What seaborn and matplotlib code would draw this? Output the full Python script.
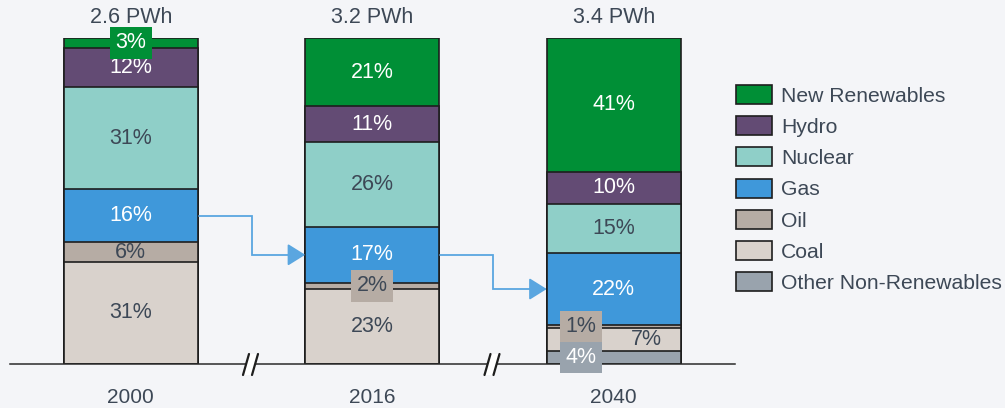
import numpy as np
import pandas as pd
import matplotlib.pyplot as plt
import seaborn as sns
from matplotlib.patches import Patch, Polygon

# Data (shares in %, bottom to top)
years = ["2000", "2016", "2040"]
totals = ["2.6 PWh", "3.2 PWh", "3.4 PWh"]
sources = ["Other Non-Renewables", "Coal", "Oil", "Gas", "Nuclear", "Hydro", "New Renewables"]
other = [0, 0, 4]
coal = [31, 23, 7]
oil = [6, 2, 1]
gas = [16, 17, 22]
nuclear = [31, 26, 15]
hydro = [12, 11, 10]
new_renew = [3, 21, 41]

colors = {
    "Other Non-Renewables": "#99a3ad",
    "Coal": "#d9d2cc",
    "Oil": "#b6aca4",
    "Gas": "#3f98da",
    "Nuclear": "#8fcfc8",
    "Hydro": "#634b74",
    "New Renewables": "#008f36",
}
dark_text = "#3d4856"
light_sources = {"Coal", "Oil", "Nuclear"}
bg = "#f4f5f8"

df = pd.DataFrame({"Other Non-Renewables": other, "Coal": coal, "Oil": oil, "Gas": gas,
                   "Nuclear": nuclear, "Hydro": hydro, "New Renewables": new_renew}, index=years)
# bars are drawn full height, so normalise each year to 100
share = df.div(df.sum(axis=1), axis=0) * 100
tops = share.cumsum(axis=1)
bottoms = tops - share

sns.set_theme(style="white")
plt.rcParams['font.family'] = ['Liberation Sans', 'DejaVu Sans']

fig = plt.figure(figsize=(10.05, 4.08), dpi=100, facecolor=bg)
ax = fig.add_axes([10 / 1005, 44 / 408, 724.5 / 1005, 326 / 408])
ax.set_facecolor(bg)

bar_w = 0.555
# overlap cumulative bars from the top layer down -> stacked look
for src in sources[::-1]:
    sns.barplot(x=years, y=tops[src].values, color=colors[src], saturation=1,
                width=bar_w, edgecolor="#1e1e1e", linewidth=1.2, errorbar=None, ax=ax)

ax.set_xlim(-0.5, 2.5)
ax.set_ylim(0, 100)
px_x = 1 / 241.5
px_y = 100 / 326

# labels; small segments get a boxed / shifted label
special = {
    ("New Renewables", "2000"): dict(box=True),
    ("Oil", "2016"): dict(box=True),
    ("Oil", "2040"): dict(box=True, dx=-33),
    ("Other Non-Renewables", "2040"): dict(box=True, dx=-33),
    ("Coal", "2040"): dict(dx=33),
}
for i, yr in enumerate(years):
    for src in sources:
        v = df.loc[yr, src]
        if v == 0:
            continue
        yc = (tops.loc[yr, src] + bottoms.loc[yr, src]) / 2
        opt = special.get((src, yr), {})
        col = dark_text if src in light_sources else "white"
        bbox = None
        if opt.get("box"):
            bbox = dict(boxstyle="square,pad=0.25", fc=colors[src], ec="none")
        ax.text(i + opt.get("dx", 0) * px_x, yc, f"{v}%", ha="center", va="center",
                fontsize=15.5, color=col, bbox=bbox, clip_on=False, zorder=5)
    ax.annotate(totals[i], xy=(i, 100), xytext=(0, 14.5), textcoords="offset points",
                ha="center", va="center", fontsize=15.5, color=dark_text, annotation_clip=False)

# arrows linking gas segments
gas_mid = ((tops["Gas"] + bottoms["Gas"]) / 2).values
arrow_c = "#5aa6e0"
for i in range(len(years) - 1):
    x0 = i + bar_w / 2 + 0.004
    xm = i + 0.5
    x1 = i + 1 - bar_w / 2
    ax.plot([x0, xm, xm, x1 - 0.04], [gas_mid[i], gas_mid[i], gas_mid[i + 1], gas_mid[i + 1]],
            color=arrow_c, lw=1.3, zorder=4, solid_joinstyle="miter")
    ax.annotate("", xy=(x1, gas_mid[i + 1]), xytext=(x1 - 0.06, gas_mid[i + 1]),
                arrowprops=dict(arrowstyle="-|>,head_length=0.4,head_width=0.25", color=arrow_c,
                                lw=1.3, shrinkA=0, shrinkB=0, mutation_scale=27), zorder=4)

# axis breaks
for xb in [0.5, 1.5]:
    l1 = [(xb - 8.5 * px_x, -11 * px_y), (xb - 2.5 * px_x, 10 * px_y)]
    l2 = [(xb + 0.5 * px_x, -11 * px_y), (xb + 6.5 * px_x, 10 * px_y)]
    ax.add_patch(Polygon([l1[0], l1[1], l2[1], l2[0]], closed=True, fc="white", ec="none",
                         clip_on=False, zorder=6))
    for ln in (l1, l2):
        ax.plot([ln[0][0], ln[1][0]], [ln[0][1], ln[1][1]], color="#1e1e1e", lw=1.6,
                clip_on=False, zorder=7)

for s in ["left", "top", "right"]:
    ax.spines[s].set_visible(False)
ax.spines["bottom"].set_color("#2a2a2a")
ax.spines["bottom"].set_linewidth(1.1)
ax.set_yticks([])
ax.set_xticks(range(len(years)))
ax.set_xticklabels(years, fontsize=15, color=dark_text)
ax.tick_params(axis="x", length=0, pad=17)
ax.set_xlabel("")
ax.set_ylabel("")

handles = [Patch(facecolor=colors[s], edgecolor="#1e1e1e", linewidth=1.2) for s in sources[::-1]]
leg = fig.legend(handles, sources[::-1], loc="upper left", bbox_to_anchor=(736 / 1005, 1 - 85 / 408),
                 frameon=False, fontsize=15.2, handlelength=1.7, handleheight=1.0,
                 labelspacing=0.5, handletextpad=0.43, borderpad=0, borderaxespad=0)
for t in leg.get_texts():
    t.set_color(dark_text)

plt.savefig("out.png", dpi=100, facecolor=bg)
